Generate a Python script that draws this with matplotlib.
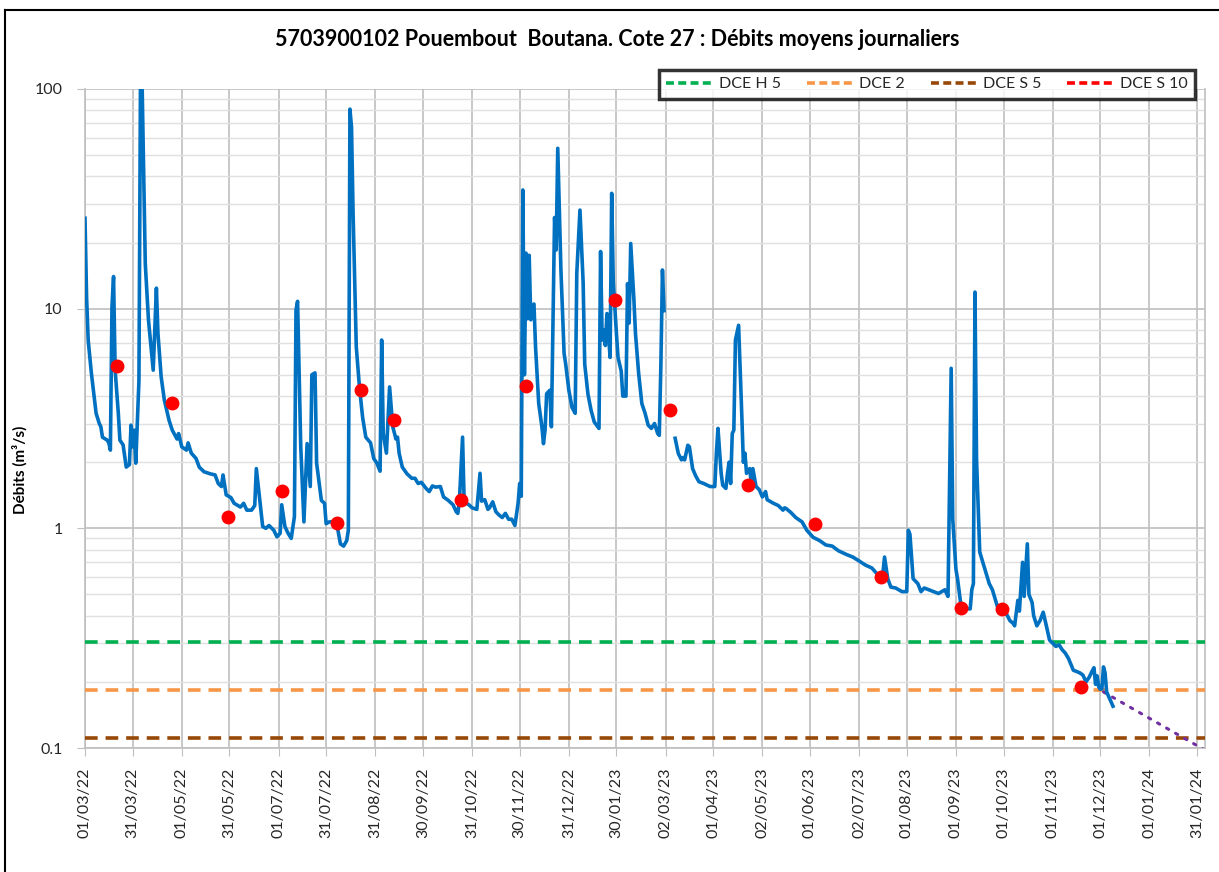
import numpy as np
import pandas as pd
import matplotlib
matplotlib.use("Agg")
import matplotlib.pyplot as plt
from matplotlib.ticker import LogLocator, FixedLocator, NullFormatter, FixedFormatter
from matplotlib.lines import Line2D

plt.rcParams['font.family'] = ['Lato', 'DejaVu Sans']

# ---------------- data ----------------
start_date = "2022-03-01"
# days since start_date (daily mean discharge, m3/s)
day_offset = [
    0, 1, 2, 4, 6, 7, 9, 10, 11, 14, 15, 16, 17, 18, 19, 21, 22, 24, 26, 28,
    29, 30, 31, 32, 34, 35, 36, 38, 40, 42, 43, 45, 46, 48, 50, 53, 55, 58, 59, 61,
    64, 65, 67, 70, 72, 75, 79, 82, 84, 86, 87, 89, 92, 94, 98, 100, 102, 105, 107, 108,
    110, 112, 114, 116, 119, 121, 123, 124, 126, 128, 130, 132, 133, 134, 136, 138, 140, 142, 143, 145,
    146, 149, 151, 152, 154, 156, 159, 161, 163, 165, 166, 167, 168, 169, 171, 173, 175, 177, 180, 182,
    184, 186, 187, 188, 190, 192, 194, 196, 197, 198, 200, 203, 206, 208, 210, 212, 215, 217, 219, 221,
    224, 226, 229, 232, 234, 235, 236, 238, 239, 242, 244, 247, 249, 250, 252, 254, 255, 257, 259, 261,
    263, 265, 267, 269, 271, 273, 274, 275, 276, 277, 278, 279, 280, 281, 282, 283, 284, 286, 288, 289,
    290, 291, 293, 294, 295, 296, 297, 298, 300, 302, 303, 305, 307, 309, 310, 312, 314, 315, 317, 319,
    321, 324, 325, 326, 327, 328, 329, 331, 332, 333, 335, 336, 338, 339, 341, 342, 343, 344, 346, 347,
    349, 351, 353, 355, 357, 359, 361, 362, 363, 364, 365, 368, 372, 374, 376, 377, 378, 380, 381, 383,
    385, 387, 390, 394, 397, 398, 399, 401, 402, 404, 405, 406, 407, 408, 409, 410, 412, 414, 415, 416,
    417, 419, 420, 421, 423, 425, 427, 429, 430, 434, 437, 440, 441, 442, 445, 448, 452, 455, 459, 463,
    467, 471, 475, 480, 484, 488, 492, 496, 501, 503, 504, 506, 508, 511, 515, 518, 519, 520, 522, 525,
    527, 529, 532, 535, 538, 542, 544, 546, 547, 549, 550, 552, 555, 558, 559, 560, 561, 562, 564, 567,
    570, 572, 574, 576, 578, 580, 583, 585, 586, 588, 589, 591, 592, 593, 594, 595, 597, 598, 600, 602,
    604, 606, 608, 610, 612, 614, 616, 618, 620, 623, 627, 629, 631, 633, 635, 636, 637, 638, 639, 640,
    641, 642, 643, 644, 646, 648,
]
flow = [
    25.8, 11.3, 7.2, 5.1, 3.84, 3.34, 3.0, 2.9, 2.6, 2.52, 2.45, 2.27, 10.2, 14.0, 5.25, 3.34, 2.52, 2.4, 1.9, 1.95,
    2.95, 2.35, 2.8, 1.98, 4.7, 120, 105, 16, 8.9, 6.25, 5.25, 12.4, 7.7, 4.9, 3.84, 3.1, 2.8, 2.55, 2.7, 2.35,
    2.27, 2.45, 2.2, 2.08, 1.9, 1.81, 1.77, 1.75, 1.6, 1.55, 1.75, 1.42, 1.38, 1.3, 1.25, 1.3, 1.21, 1.21, 1.27, 1.87,
    1.38, 1.02, 1.0, 1.03, 0.98, 0.915, 0.95, 1.28, 1.02, 0.95, 0.9, 1.13, 9.85, 10.8, 2.35, 1.07, 2.43, 1.55, 5.0, 5.1,
    1.98, 1.34, 1.3, 1.05, 1.07, 1.07, 1.02, 0.85, 0.83, 0.88, 0.98, 81, 67, 27, 6.7, 4.4, 3.2, 2.6, 2.45, 2.08,
    1.98, 1.82, 7.2, 2.7, 2.2, 4.4, 2.9, 2.55, 2.6, 2.2, 1.9, 1.77, 1.69, 1.69, 1.6, 1.62, 1.52, 1.47, 1.56, 1.54,
    1.55, 1.39, 1.34, 1.28, 1.19, 1.17, 1.33, 2.6, 1.32, 1.28, 1.24, 1.22, 1.78, 1.33, 1.35, 1.22, 1.24, 1.32, 1.19, 1.15,
    1.12, 1.17, 1.1, 1.1, 1.03, 1.3, 1.6, 1.4, 34.7, 5.0, 17.9, 9.0, 17.5, 8.9, 10.3, 10.5, 6.7, 3.7, 2.9, 2.43,
    2.8, 4.1, 4.25, 2.9, 8.9, 26, 18.5, 53.7, 15, 6.25, 5.6, 4.25, 3.55, 3.34, 14.5, 28.1, 13.2, 5.6, 4.1, 3.45,
    3.05, 2.85, 18.2, 7.2, 8.0, 6.8, 9.5, 6.0, 33.5, 13.2, 7.7, 6.0, 5.2, 4.0, 4.0, 13, 8.6, 19.8, 11, 7.7,
    5.07, 3.7, 3.35, 2.95, 2.85, 3.0, 2.7, 2.65, 5.5, 15, 9.8, np.nan, 2.57, 2.19, 2.05, 2.1, 2.05, 2.39, 2.35, 1.87,
    1.73, 1.63, 1.6, 1.55, 1.55, 2.2, 2.85, 1.78, 1.57, 1.52, 1.78, 2.0, 1.6, 2.7, 2.8, 7.2, 8.4, 3.3, 2.0, 2.2,
    1.78, 1.87, 1.6, 1.87, 1.55, 1.5, 1.39, 1.47, 1.35, 1.3, 1.27, 1.21, 1.24, 1.23, 1.18, 1.12, 1.07, 0.98, 0.91, 0.88,
    0.84, 0.83, 0.79, 0.76, 0.74, 0.71, 0.68, 0.66, 0.60, 0.63, 0.74, 0.59, 0.54, 0.535, 0.515, 0.515, 0.98, 0.94, 0.59, 0.56,
    0.515, 0.535, 0.525, 0.515, 0.505, 0.525, 0.49, 5.35, 1.1, 0.65, 0.59, 0.455, 0.43, 0.43, 0.525, 0.56, 11.9, 2.05, 0.78, 0.66,
    0.56, 0.525, 0.47, 0.42, 0.41, 0.42, 0.38, 0.37, 0.36, 0.47, 0.42, 0.70, 0.49, 0.64, 0.85, 0.5, 0.46, 0.40, 0.36, 0.38,
    0.415, 0.36, 0.31, 0.30, 0.29, 0.295, 0.28, 0.27, 0.255, 0.226, 0.22, 0.215, 0.2, 0.21, 0.225, 0.232, 0.195, 0.213, 0.19, 0.185,
    0.186, 0.234, 0.22, 0.18, 0.167, 0.155,
]

gauging_dates = ["2022-03-21", "2022-04-25", "2022-05-30", "2022-07-03", "2022-08-07",
                 "2022-08-22", "2022-09-12", "2022-10-24", "2022-12-04", "2023-01-29",
                 "2023-03-05", "2023-04-23", "2023-06-04", "2023-07-16", "2023-09-04",
                 "2023-09-30", "2023-11-19"]
gauging_flow = [5.48, 3.71, 1.13, 1.48, 1.06, 4.26, 3.11, 1.35, 4.45, 10.9,
                3.45, 1.58, 1.045, 0.60, 0.436, 0.43, 0.19]

threshold_names = ["DCE H 5", "DCE 2", "DCE S 5", "DCE S 10"]
threshold_values = [0.303, 0.183, 0.111, 0.09]
threshold_colors = ["#00B050", "#F79646", "#974706", "#FF0000"]

trend_dates = ["2023-12-03", "2024-02-08"]
trend_flow = [0.18, 0.095]

tick_labels = ["01/03/22", "31/03/22", "01/05/22", "31/05/22", "01/07/22", "31/07/22",
               "31/08/22", "30/09/22", "31/10/22", "30/11/22", "31/12/22", "30/01/23",
               "02/03/23", "01/04/23", "02/05/23", "01/06/23", "02/07/23", "01/08/23",
               "01/09/23", "01/10/23", "01/11/23", "01/12/23", "01/01/24", "31/01/24"]
x_end = "2024-02-05"

# ---------------- figure ----------------
W, H = 1219, 872
fig = plt.figure(figsize=(W / 100, H / 100), dpi=100)
ax = fig.add_axes([85 / W, 1 - 748 / H, (1205 - 85) / W, (748 - 89) / H])

dates = pd.Timestamp(start_date) + pd.to_timedelta(day_offset, unit="D")
ax.plot(dates, flow, color="#0070C0", lw=2.6, solid_joinstyle="round", zorder=4)

for v, c in zip(threshold_values, threshold_colors):
    ax.axhline(v, color=c, lw=2.6, dashes=(3.5, 2.2), zorder=3)

ax.plot(pd.to_datetime(trend_dates), trend_flow, color="#7030A0", lw=2.2,
        linestyle=(0, (0.8, 2.6)), dash_capstyle="round", zorder=3)

ax.plot(pd.to_datetime(gauging_dates), gauging_flow, "o", color="#FF0000", ms=9,
        mec="#FF0000", zorder=5)

ax.set_yscale("log")
ax.set_ylim(0.1, 100)
ax.set_xlim(pd.Timestamp(start_date), pd.Timestamp(x_end))

tick_dates = pd.to_datetime(tick_labels, format="%d/%m/%y")
ax.xaxis.set_major_locator(FixedLocator(matplotlib.dates.date2num(tick_dates)))
ax.xaxis.set_major_formatter(FixedFormatter(tick_labels))
ax.xaxis.set_minor_locator(FixedLocator([]))
plt.setp(ax.get_xticklabels(), rotation=90, fontsize=11.5, color="#262626")

ax.yaxis.set_major_locator(FixedLocator([0.1, 1, 10, 100]))
ax.yaxis.set_major_formatter(FixedFormatter(["0.1", "1", "10", "100"]))
ax.yaxis.set_minor_locator(LogLocator(base=10, subs=np.arange(2, 10)))
ax.yaxis.set_minor_formatter(NullFormatter())
ax.tick_params(axis="y", which="major", labelsize=11.5, labelcolor="#262626",
               length=6, color="#BFBFBF", pad=10)
ax.tick_params(axis="x", which="major", length=6, color="#BFBFBF", pad=8)
ax.tick_params(which="minor", length=0)

ax.grid(True, which="major", axis="both", color="#BFBFBF", lw=1.2, zorder=0)
ax.grid(True, which="minor", axis="y", color="#E0E0E0", lw=1.0, zorder=0)
ax.set_axisbelow(True)
ax.spines["top"].set_visible(False)
for s in ["left", "bottom", "right"]:
    ax.spines[s].set_color("#BFBFBF")
    ax.spines[s].set_linewidth(1.2)

fig.text(0.506, 1 - 40 / H, "5703900102 Pouembout  Boutana. Cote 27 : Débits moyens journaliers",
         ha="center", va="center", fontsize=15.5, fontweight="bold", color="#000000")
fig.text(20 / W, 1 - 470 / H, "Débits (m³/s)", rotation=90, ha="center", va="center",
         fontsize=11, fontweight="bold", color="#000000")

handles = [Line2D([0], [0], color=c, lw=2.6, dashes=(2.2, 1.2)) for c in threshold_colors]
leg = fig.legend(handles, threshold_names, loc="upper right",
                 bbox_to_anchor=(1203 / W, 1 - 62 / H), ncol=4, frameon=True,
                 fancybox=False, fontsize=11.5, handlelength=3.0, columnspacing=1.6,
                 handletextpad=0.3, borderpad=0.45, labelcolor="#262626")
leg.get_frame().set_edgecolor("black")
leg.get_frame().set_linewidth(2.5)

# outer chart border
fig.add_artist(Line2D([5 / W, 5 / W], [0, 1 - 10 / H], color="black", lw=1.5,
                      transform=fig.transFigure))
fig.add_artist(Line2D([5 / W, 1], [1 - 10 / H, 1 - 10 / H], color="black", lw=1.5,
                      transform=fig.transFigure))

fig.savefig("out.png", dpi=100)
